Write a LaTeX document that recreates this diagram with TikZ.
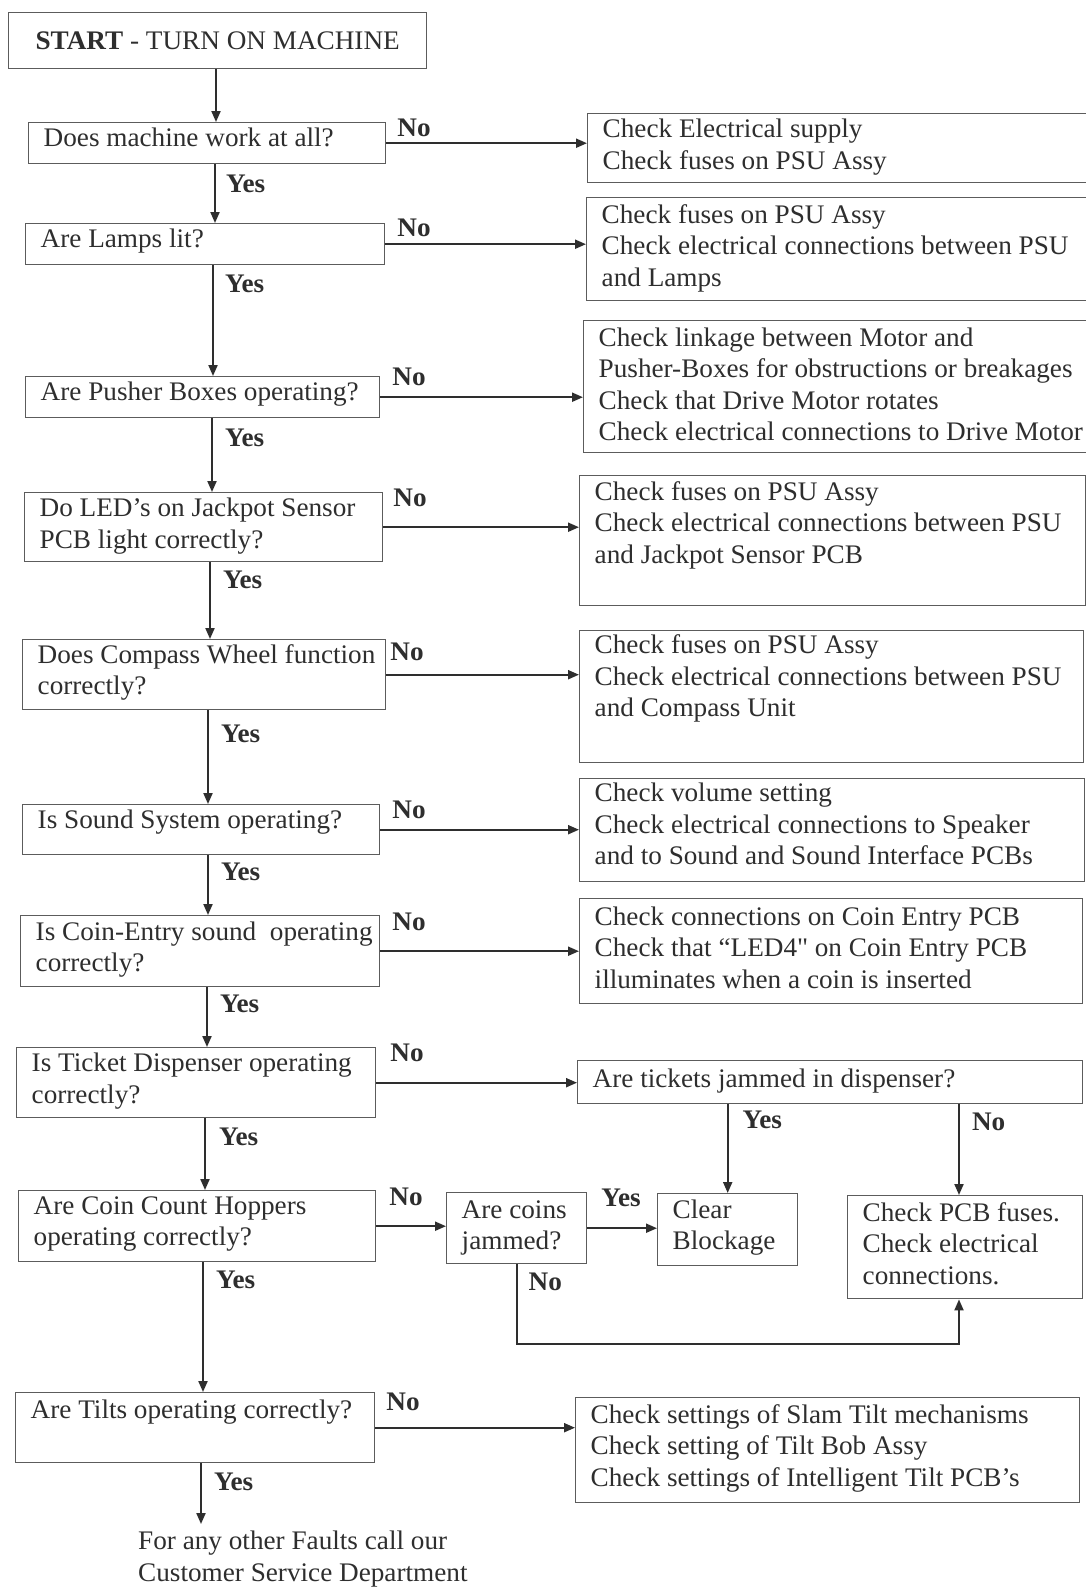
\documentclass[tikz,border=0pt]{standalone}
\usepackage{fontspec}
\setmainfont[FakeStretch=1.015]{Liberation Serif}
\usetikzlibrary{arrows.meta,calc}
\definecolor{ink}{HTML}{2E2E2E}
\definecolor{edge}{HTML}{5C5C5C}
\tikzset{
  bx/.style={draw=edge, line width=1.4pt, anchor=north west, inner sep=0pt, text=ink},
  arr/.style={draw=ink, line width=2pt, -{Triangle[length=11pt,width=9pt]}},
  lbl/.style={font=\fontsize{26.8}{31.5}\selectfont\bfseries, text=ink, inner sep=0pt, anchor=west},
}
\newcommand{\bxnode}[7][1.5]{%
  \node[bx, minimum width=#5pt, minimum height=#6pt] (#2) at (#3,#4)
  {\parbox[c][#6pt][t]{#5pt}{\raggedright\setlength\leftskip{15pt}\vspace*{#1pt}\strut #7}};}
\begin{document}
\begin{tikzpicture}[x=1pt,y=-1pt]
\fontsize{26.8}{31.5}\selectfont
\useasboundingbox[fill=white] (0,0) rectangle (1086,1588);

% left column
\node[bx, minimum width=418pt, minimum height=56pt, align=center] (start) at (8,12) {\textbf{START} - TURN ON MACHINE};
\bxnode{q1}{28}{122}{357}{41}{Does machine work at all?}
\bxnode{q2}{25}{223}{359}{41}{Are Lamps lit?}
\bxnode{q3}{25}{376}{354}{41}{Are Pusher Boxes operating?}
\bxnode[2]{q4}{24}{492}{358}{69}{Do LED’s on Jackpot Sensor\\PCB light correctly?}
\bxnode{q5}{22}{639}{363}{70}{Does Compass Wheel function\\correctly?}
\bxnode[2]{q6}{22}{804}{357}{50}{Is Sound System operating?}
\bxnode[2.5]{q7}{20}{915}{359}{71}{Is Coin-Entry sound\ \ operating\\correctly?}
\bxnode[2]{q8}{16}{1047}{359}{70}{Is Ticket Dispenser operating\\correctly?}
\bxnode{q9}{18}{1190}{357}{71}{Are Coin Count Hoppers\\operating correctly?}
\bxnode[3.5]{q10}{15}{1392}{359}{70}{Are Tilts operating correctly?}
\node[anchor=north west, inner xsep=0pt, inner ysep=7pt, align=left, text=ink] (fin) at (138,1524) {For any other Faults call our\\Customer Service Department};

% right column
\bxnode[2]{r1}{587}{113}{503}{69}{Check Electrical supply\\Check fuses on PSU Assy}
\bxnode[3.5]{r2}{586}{197}{504}{103}{Check fuses on PSU Assy\\Check electrical connections between PSU\\and Lamps}
\bxnode[3.5]{r3}{583}{320}{507}{132}{Check linkage between Motor and\\Pusher-Boxes for obstructions or breakages\\Check that Drive Motor rotates\\Check electrical connections to Drive Motor}
\bxnode[2.5]{r4}{579}{475}{506}{130}{Check fuses on PSU Assy\\Check electrical connections between PSU\\and Jackpot Sensor PCB}
\bxnode[1]{r5}{579}{630}{504}{132}{Check fuses on PSU Assy\\Check electrical connections between PSU\\and Compass Unit}
\bxnode[1]{r6}{579}{778}{505}{103}{Check volume setting\\Check electrical connections to Speaker\\and to Sound and Sound Interface PCBs}
\bxnode[4.5]{r7}{579}{898}{503}{105}{Check connections on Coin Entry PCB\\Check that “LED4\textquotedbl{} on Coin Entry PCB\\illuminates when a coin is inserted}
\bxnode[4.5]{tk}{577}{1060}{505}{43}{Are tickets jammed in dispenser?}
\bxnode[3.5]{cj}{446}{1192}{140}{71}{Are coins\\jammed?}
\bxnode[2.5]{cb}{657}{1193}{140}{72}{Clear\\Blockage}
\bxnode[3.5]{pcb}{847}{1195}{235}{103}{Check PCB fuses.\\Check electrical\\connections.}
\bxnode[3.5]{r10}{575}{1397}{504}{105}{Check settings of Slam Tilt mechanisms\\Check setting of Tilt Bob Assy\\Check settings of Intelligent Tilt PCB’s}

% main trunk (Yes)
\draw[arr] (start.south -| 216,0) -- (q1.north -| 216,0);
\draw[arr] (q1.south -| 215,0) -- (q2.north -| 215,0) node[lbl, pos=0, xshift=10pt, yshift=-19pt] {Yes};
\draw[arr] (q2.south -| 213,0) -- (q3.north -| 213,0) node[lbl, pos=0, xshift=11pt, yshift=-18pt] {Yes};
\draw[arr] (q3.south -| 212,0) -- (q4.north -| 212,0) node[lbl, pos=0, xshift=12pt, yshift=-19pt] {Yes};
\draw[arr] (q4.south -| 210,0) -- (q5.north -| 210,0) node[lbl, pos=0, xshift=12pt, yshift=-17pt] {Yes};
\draw[arr] (q5.south -| 208,0) -- (q6.north -| 208,0) node[lbl, pos=0, xshift=12pt, yshift=-23pt] {Yes};
\draw[arr] (q6.south -| 208,0) -- (q7.north -| 208,0) node[lbl, pos=0, xshift=12pt, yshift=-16pt] {Yes};
\draw[arr] (q7.south -| 207,0) -- (q8.north -| 207,0) node[lbl, pos=0, xshift=12pt, yshift=-16pt] {Yes};
\draw[arr] (q8.south -| 205,0) -- (q9.north -| 205,0) node[lbl, pos=0, xshift=13pt, yshift=-18pt] {Yes};
\draw[arr] (q9.south -| 203,0) -- (q10.north -| 203,0) node[lbl, pos=0, xshift=12pt, yshift=-17pt] {Yes};
\draw[arr] (q10.south -| 201,0) -- (fin.north -| 201,0) node[lbl, pos=0, xshift=12pt, yshift=-18pt] {Yes};

% No branches
\draw[arr] (q1.east) -- (q1.east -| r1.west) node[lbl] at ($(q1.north east)+(10,6)$) {No};
\draw[arr] (q2.east) -- (q2.east -| r2.west) node[lbl] at ($(q2.north east)+(11,5)$) {No};
\draw[arr] (q3.east) -- (q3.east -| r3.west) node[lbl] at ($(q3.north east)+(11,1)$) {No};
\draw[arr] (q4.east) -- (q4.east -| r4.west) node[lbl] at ($(q4.north east)+(9,6)$) {No};
\draw[arr] (q5.east) -- (q5.east -| r5.west) node[lbl] at ($(q5.north east)+(3,13)$) {No};
\draw[arr] (q6.east) -- (q6.east -| r6.west) node[lbl] at ($(q6.north east)+(11,6)$) {No};
\draw[arr] (q7.east) -- (q7.east -| r7.west) node[lbl] at ($(q7.north east)+(11,7)$) {No};
\draw[arr] (q8.east) -- (q8.east -| tk.west) node[lbl] at ($(q8.north east)+(13,6)$) {No};
\draw[arr] (q9.east) -- (q9.east -| cj.west) node[lbl] at ($(q9.north east)+(12,7)$) {No};
\draw[arr] (q10.east) -- (q10.east -| r10.west) node[lbl] at ($(q10.north east)+(10,10)$) {No};

% sub-branches
\draw[arr] (tk.south -| cb.north) -- (cb.north) node[lbl, pos=0, xshift=14pt, yshift=-15pt] {Yes};
\draw[arr] (tk.south -| 959,0) -- (pcb.north -| 959,0) node[lbl, pos=0, xshift=12pt, yshift=-17pt] {No};
\draw[arr] (cj.east) -- (cj.east -| cb.west) node[lbl] at ($(cj.north east)+(13,6)$) {Yes};
\draw[arr] (cj.south) -- ++(0,80) -| (pcb.south -| 959,0) node[lbl] at ($(cj.south)+(11,17)$) {No};
\end{tikzpicture}
\end{document}
